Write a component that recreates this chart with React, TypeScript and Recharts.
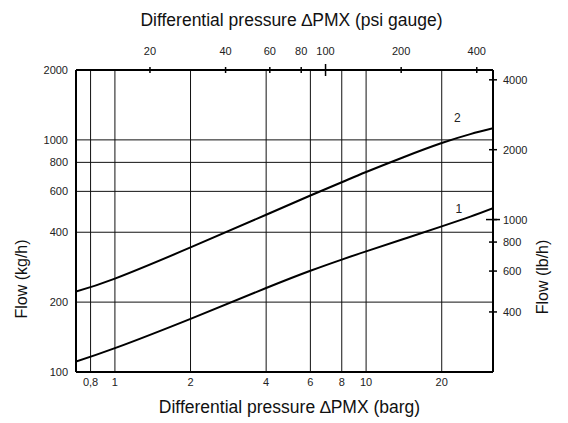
import React from "react";
import {
  LineChart,
  Line,
  XAxis,
  YAxis,
  CartesianGrid,
  ReferenceDot,
} from "recharts";

const pressureBar = [0.7, 1, 2, 4, 6, 8, 10, 14, 20, 26, 32];
const flowCurve1 = [111, 126.7, 169.5, 230, 273, 305, 331, 373, 424, 467, 508];
const flowCurve2 = [222, 252.5, 344, 476, 576, 657, 727, 840, 969, 1059, 1122];

const barTicks = [0.8, 1, 2, 4, 6, 8, 10, 20];
const barTickLabels = ["0,8", "1", "2", "4", "6", "8", "10", "20"];
const psiTicks = [20, 40, 60, 80, 100, 200, 400];
const kgTicks = [100, 200, 400, 600, 800, 1000, 2000];
const lbTicks = [400, 600, 800, 1000, 2000, 4000];

const curveLabels = [
  { name: "1", x: 23.4, y: 502 },
  { name: "2", x: 23.1, y: 1245 },
];

const PSI_PER_BAR = 14.5038;
const LB_PER_KG = 2.20462;
const barDomain = [0.7, 32];
const kgDomain = [100, 2000];

const data = pressureBar.map((p, i) => ({
  p,
  psi: p * PSI_PER_BAR,
  c1: flowCurve1[i],
  c2: flowCurve2[i],
}));

const FONT = '"Liberation Sans", Arial, sans-serif';
const TOP_MARGIN = 13;
const RIGHT_TICK = 4;
const RIGHT_MARGIN = 6;

const TopTick = (props: any) => {
  const { x, y, payload } = props;
  const axisY = Number(y) + TOP_MARGIN;
  const len = payload.value === 100 ? 6 : 3;
  return (
    <g>
      <line x1={x} x2={x} y1={axisY - len} y2={axisY + len} stroke="#000" strokeWidth={1.5} />
      <text x={x} y={Number(y) - 2} textAnchor="middle" fontSize={11} fill="#222" fontFamily={FONT}>
        {payload.value}
      </text>
    </g>
  );
};

// the outer half of each right tick comes from tickLine, the inner half is drawn here
const RightTick = (props: any) => {
  const { x, y, payload } = props;
  const axisX = Number(x) - RIGHT_MARGIN - RIGHT_TICK;
  const ty = Number(y);
  const len = payload.value === 1000 ? 7 : 4;
  return (
    <g>
      <path d={`M${axisX - len},${ty}H${axisX + (len > 4 ? len : 0)}`} stroke="#000" strokeWidth={1.5} fill="none" />
      <text x={x} y={ty + 4} textAnchor="start" fontSize={11} fill="#222" fontFamily={FONT}>
        {payload.value}
      </text>
    </g>
  );
};

const curveLabel = (name: string) => (props: any) => {
  const vb = props.viewBox || {};
  return (
    <text
      x={vb.x + (vb.width || 0) / 2}
      y={vb.y + (vb.height || 0) / 2 + 4}
      textAnchor="middle"
      fontSize={12}
      fill="#222"
      fontFamily={FONT}
    >
      {name}
    </text>
  );
};

export default function App() {
  return (
    <div style={{ position: "absolute", left: 0, top: 0, width: 568, height: 423, background: "#fff", fontFamily: FONT }}>
      <LineChart
        width={568}
        height={423}
        data={data}
        margin={{ top: 0, right: 0, bottom: 0, left: 0 }}
      >
        <CartesianGrid stroke="#111" strokeWidth={1} />
        <XAxis
          dataKey="p"
          type="number"
          scale="log"
          domain={barDomain}
          allowDataOverflow
          ticks={barTicks}
          interval={0}
          tickFormatter={(v: number) => barTickLabels[barTicks.indexOf(v)] ?? String(v)}
          height={51}
          tickLine={false}
          tickSize={0}
          tickMargin={6}
          axisLine={{ stroke: "#000", strokeWidth: 2 }}
          tick={{ fontSize: 11, fill: "#222", fontFamily: FONT }}
          label={{
            value: "Differential pressure \u2206PMX (barg)",
            position: "insideBottom",
            offset: 10,
            dx: 5,
            fontSize: 17.5,
            fill: "#111",
            fontFamily: FONT,
          }}
        />
        <XAxis
          xAxisId="psi"
          dataKey="psi"
          orientation="top"
          type="number"
          scale="log"
          domain={[barDomain[0] * PSI_PER_BAR, barDomain[1] * PSI_PER_BAR]}
          allowDataOverflow
          ticks={psiTicks}
          interval={0}
          height={70}
          tickLine={false}
          tickSize={0}
          tickMargin={TOP_MARGIN}
          axisLine={{ stroke: "#000", strokeWidth: 2 }}
          tick={<TopTick />}
          label={{
            value: "Differential pressure \u2206PMX (psi gauge)",
            position: "insideTop",
            offset: 14,
            dx: 7,
            fontSize: 17.5,
            fill: "#111",
            fontFamily: FONT,
          }}
        />
        <YAxis
          type="number"
          scale="log"
          domain={kgDomain}
          allowDataOverflow
          ticks={kgTicks}
          interval={0}
          width={76}
          tickLine={false}
          tickSize={0}
          tickMargin={8}
          axisLine={{ stroke: "#000", strokeWidth: 2 }}
          tick={{ fontSize: 11, fill: "#222", fontFamily: FONT }}
          label={{
            value: "Flow (kg/h)",
            angle: -90,
            position: "center",
            dx: -17,
            dy: 58,
            fontSize: 16,
            fill: "#111",
            fontFamily: FONT,
          }}
        />
        <YAxis
          yAxisId="lb"
          orientation="right"
          type="number"
          scale="log"
          domain={[kgDomain[0] * LB_PER_KG, kgDomain[1] * LB_PER_KG]}
          allowDataOverflow
          ticks={lbTicks}
          interval={0}
          width={75}
          tickLine={{ stroke: "#000", strokeWidth: 1.5 }}
          tickSize={RIGHT_TICK}
          tickMargin={RIGHT_MARGIN}
          axisLine={{ stroke: "#000", strokeWidth: 2 }}
          tick={<RightTick />}
          label={{
            value: "Flow (lb/h)",
            angle: -90,
            position: "center",
            dx: 11.5,
            dy: 56,
            fontSize: 16,
            fill: "#111",
            fontFamily: FONT,
          }}
        />
        <Line
          dataKey="c1"
          type="natural"
          stroke="#000"
          strokeWidth={2}
          dot={false}
          isAnimationActive={false}
        />
        <Line
          dataKey="c2"
          type="natural"
          stroke="#000"
          strokeWidth={2}
          dot={false}
          isAnimationActive={false}
        />
        {curveLabels.map((c) => (
          <ReferenceDot
            key={c.name}
            x={c.x}
            y={c.y}
            r={0}
            fill="none"
            stroke="none"
            label={curveLabel(c.name)}
          />
        ))}
      </LineChart>
    </div>
  );
}
